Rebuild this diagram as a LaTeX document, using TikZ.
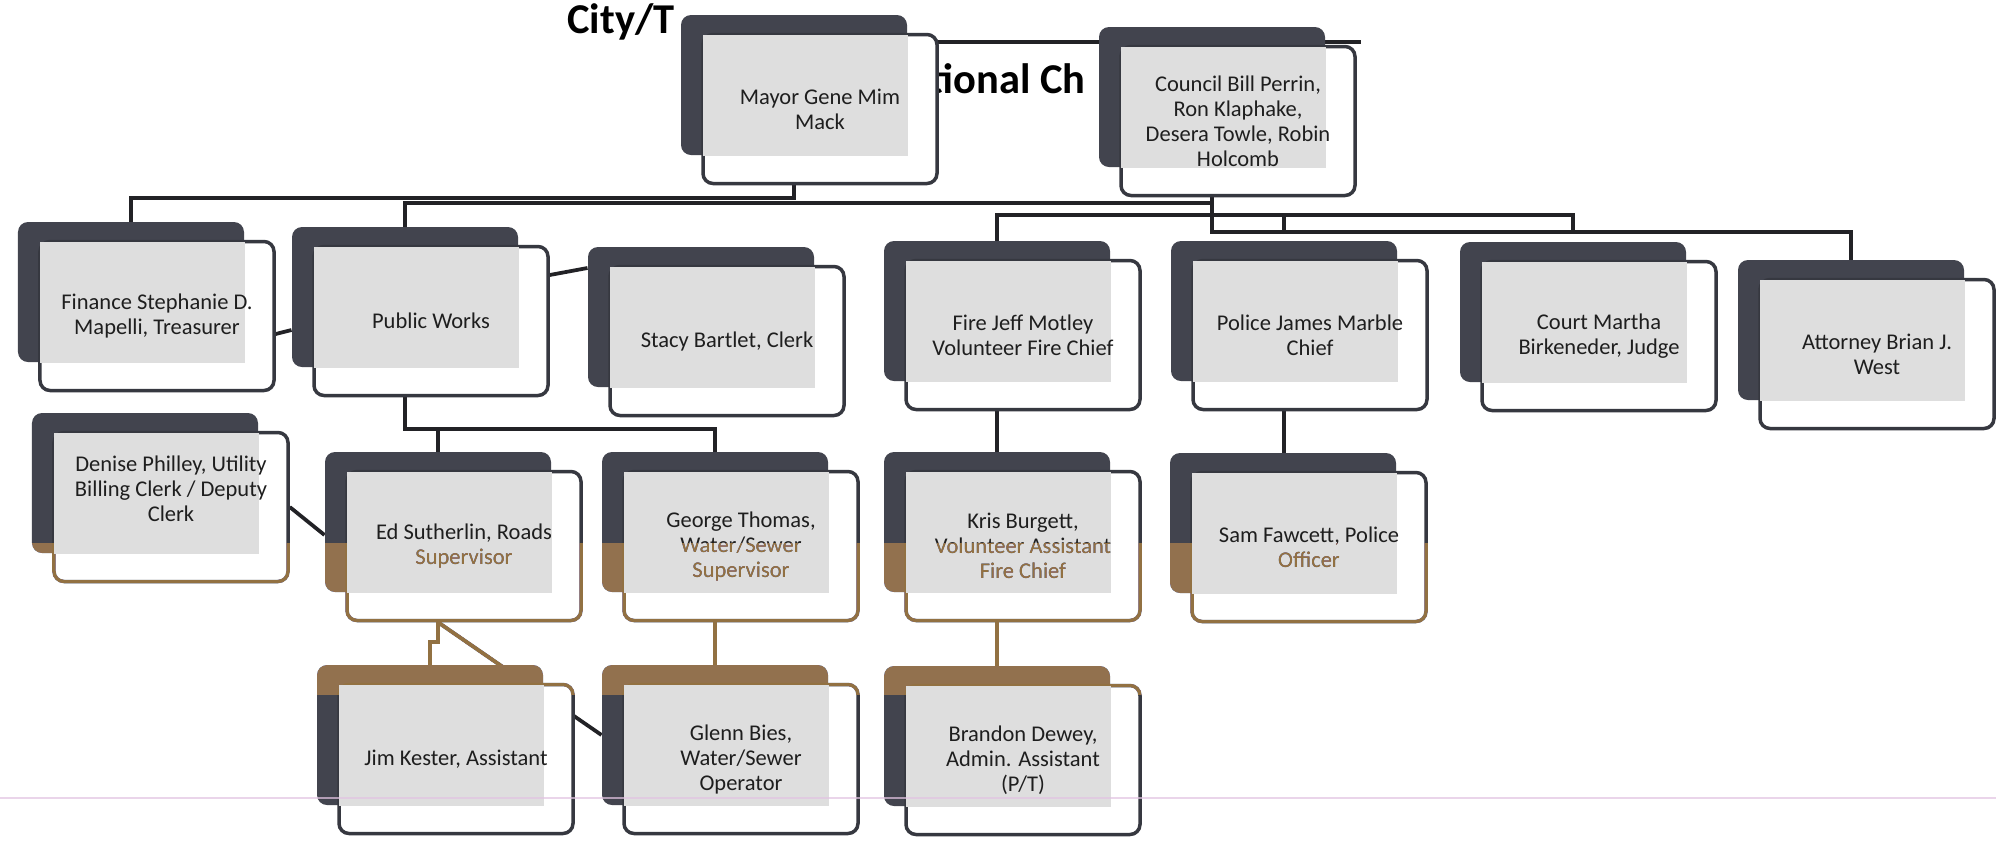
\documentclass[tikz,border=0pt]{standalone}
\usepackage{fontspec}
\setmainfont{Carlito}
\usetikzlibrary{calc}
\pgfdeclarelayer{background}
\pgfsetlayers{background,main}

\definecolor{slatebox}{RGB}{66,68,78}
\definecolor{slateline}{RGB}{54,56,64}
\definecolor{linkline}{RGB}{34,34,38}
\definecolor{dotgray}{RGB}{222,222,222}
\definecolor{scanbrown}{RGB}{146,113,66}
\definecolor{inktext}{RGB}{30,30,30}
\definecolor{scanpink}{RGB}{226,196,226}

\begin{document}
\begin{tikzpicture}[x=0.4pt, y=-0.4pt]
            \tikzset{
                backbox/.style={
                    rectangle, rounded corners=4pt, fill=slatebox, inner sep=0pt,
                    minimum width=90.4pt, minimum height=56pt
                },
                frontbox/.style={
                    rectangle, rounded corners=4pt, draw=slateline, line width=1.4pt,
                    fill=white, inner sep=0pt,
                    minimum width=93.6pt, minimum height=59.6pt
                },
                boxtext/.style={
                    align=center, inner sep=0pt, text=inktext,
                    font=\fontsize{9}{10}\selectfont
                },
                titletext/.style={
                    anchor=base west, inner sep=0pt,
                    font=\fontsize{17}{20}\selectfont\bfseries
                },
                link/.style={draw=linkline, line width=1.5pt}
            }

            % One card: dark back card, front card, dotted overlap, text
            % #1 name, #2/#3 centre of the back card, #4 text shift, #5 text
            \def\orgcard#1#2#3#4#5{
                \node[backbox] (#1) at (#2,#3) {};
                \node[frontbox] (#1-f) at ($(#1)+(26,24)$) {};
                \fill[dotgray] ($(#1-f.north west)+(2,2)$) rectangle (#1.south east);
                \node[boxtext] (#1-t) at ($(#1-f)+(0,#4)$) {#5};
            }

            \useasboundingbox (0,0) rectangle (1996,841);
            \begin{pgfonlayer}{background}
                \fill[white] (0,0) rectangle (1996,841);
            \end{pgfonlayer}

            % --- Title (the cards cover most of it) ---
            \node[titletext] (title1) at (567,33) {City/T};
            \node[titletext] (title2) at (928,93) {tional Ch};

            % --- Top row ---
            \orgcard{mayor}{794}{85}{0}{Mayor Gene Mim\\Mack}
            \orgcard{council}{1212}{97}{0}{Council Bill Perrin,\\Ron Klaphake,\\Desera Towle, Robin\\Holcomb}

            % --- Departments ---
            \orgcard{finance}{131}{292}{0}{Finance Stephanie D.\\Mapelli, Treasurer}
            \orgcard{pubworks}{405}{297}{0}{Public Works}
            \orgcard{stacy}{701}{317}{0}{Stacy Bartlet, Clerk}
            \orgcard{fire}{997}{311}{0}{Fire Jeff Motley\\Volunteer Fire Chief}
            \orgcard{police}{1284}{311}{0}{Police James Marble\\Chief}
            \orgcard{court}{1573}{312}{0}{Court Martha\\Birkeneder, Judge}
            \orgcard{attorney}{1851}{330}{0}{Attorney Brian J.\\West}

            % --- Staff ---
            \orgcard{denise}{145}{483}{-18}{Denise Philley, Utility\\Billing Clerk / Deputy\\Clerk}
            \orgcard{ed}{438}{522}{0}{Ed Sutherlin, Roads\\Supervisor}
            \orgcard{george}{715}{522}{0}{George Thomas,\\Water/Sewer\\Supervisor}
            \orgcard{kris}{997}{522}{0}{Kris Burgett,\\Volunteer Assistant\\Fire Chief}
            \orgcard{sam}{1283}{523}{0}{Sam Fawcett, Police\\Officer}
            \orgcard{jim}{430}{735}{0}{Jim Kester, Assistant}
            \orgcard{glenn}{715}{735}{0}{Glenn Bies,\\Water/Sewer\\Operator}
            \orgcard{brandon}{997}{736}{0}{Brandon Dewey,\\Admin. Assistant\\(P/T)}

            % --- Connectors, behind the cards ---
            \begin{pgfonlayer}{background}
                \coordinate (ruleend) at (1361,42);
                \coordinate (railA) at (0,198);
                \coordinate (railB) at (0,203);
                \coordinate (railC) at (0,215);
                \coordinate (railD) at (0,232);
                \coordinate (railE) at (0,429);
                \coordinate (railF) at (0,642);

                % title rule
                \draw[link] (mayor |- ruleend) -- (ruleend);

                % mayor and council down to the departments
                \draw[link] (mayor) |- (finance |- railA) -- (finance.north);
                \draw[link] (council) |- (pubworks |- railB) -- (pubworks.north);
                \draw[link] (council) |- (attorney |- railD) -- (attorney.north);
                \draw[link] (fire.north) |- (court |- railC) -- (court |- railD);
                \draw[link] (police |- railC) -- (police |- railD);

                % side links
                \draw[link] ($(finance-f.east)+(0,18)$) -- ($(pubworks.west)+(0,33)$);
                \draw[link] ($(pubworks-f.east)+(0,-46)$) -- ($(stacy.west)+(0,-49)$);
                \draw[link] (denise-f.east) -- ($(ed.west)+(0,13)$);

                % public works
                \draw[link] (pubworks) |- (george |- railE) -- (george.north);
                \draw[link] (ed |- railE) -- (ed.north);
                \draw[link] (ed) -- (ed |- railF) -| (jim.north);
                \draw[link] (ed |- ed-f.south) -- (glenn.west);
                \draw[link] (george) -- (glenn.north);

                % fire and police
                \draw[link] (fire) -- (kris.north);
                \draw[link] (police) -- (police |- sam.north);
                \draw[link] (kris) -- (brandon.north);
            \end{pgfonlayer}

            % --- Brown band of the scan ---
            \begin{scope}[blend mode=lighten]
                \fill[scanbrown] (0,543) rectangle (1996,695);
            \end{scope}

            % faint line near the bottom
            \draw[scanpink, line width=0.6pt, opacity=0.7] (0,798) -- (1996,798);
\end{tikzpicture}
\end{document}
